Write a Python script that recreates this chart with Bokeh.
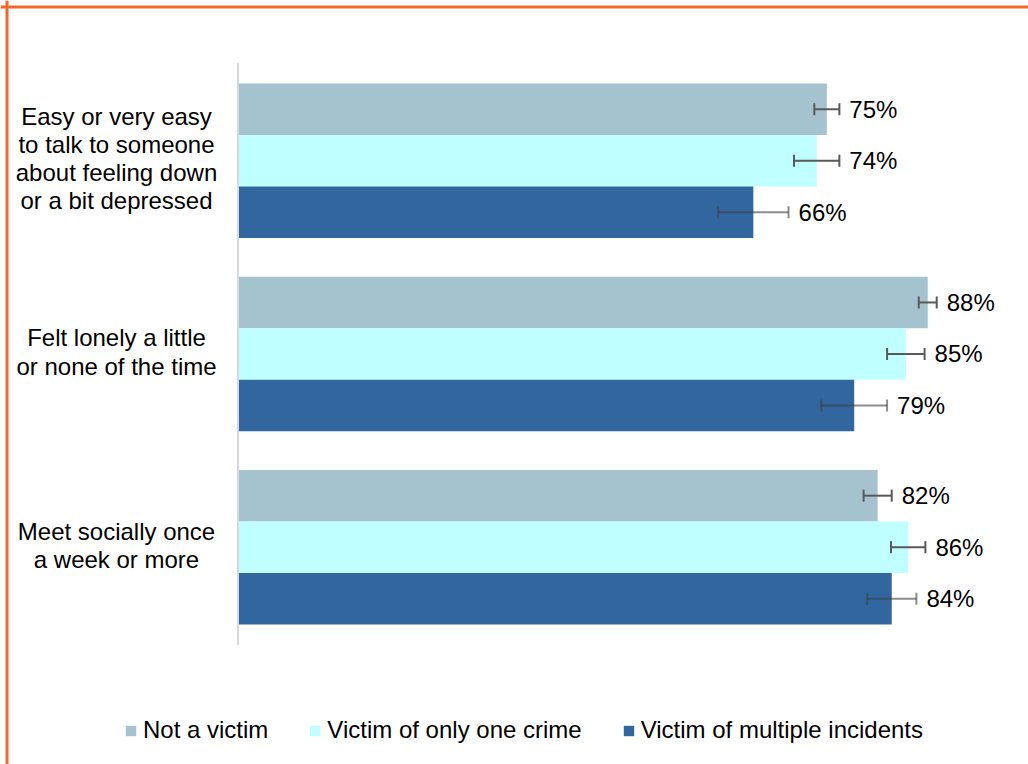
from bokeh.plotting import figure
from bokeh.models import ColumnDataSource, Range1d, Span, Whisker, TeeHead
from bokeh.core.properties import value
from bokeh.embed import file_html
from bokeh.resources import INLINE

# ---------------- data ----------------
categories = [
    "Easy or very easy\nto talk to someone\nabout feeling down\nor a bit depressed",
    "Felt lonely a little\nor none of the time",
    "Meet socially once\na week or more",
]
series_names = ["Not a victim", "Victim of only one crime", "Victim of multiple incidents"]
not_a_victim = [75.3, 88.2, 81.8]
one_crime = [74.0, 85.4, 85.7]
multiple_incidents = [65.9, 78.8, 83.6]
not_a_victim_err = [1.6, 1.15, 1.8]
one_crime_err = [2.9, 2.4, 2.2]
multiple_incidents_err = [4.5, 4.2, 3.15]

values = [not_a_victim, one_crime, multiple_incidents]
errors = [not_a_victim_err, one_crime_err, multiple_incidents_err]

# ---------------- styles / layout ----------------
colors = ["#A5C3CF", "#C0FFFF", "#31669E"]
err_colors = ["#595959", "#595959", "#404040"]
err_alphas = [1.0, 1.0, 0.6]
ORANGE = "#F4662A"
FONT = "Liberation Sans"

W, H = 1028, 764
PX_PER_PCT = 7.82
ZERO_SX = 237.5
BAR_PX = 51.52
TOP_SY = 83
GROUP_GAP = 0.75
N_SER = len(series_names)
PITCH = N_SER + GROUP_GAP
LABEL_X = (116 - ZERO_SX) / PX_PER_PCT
BORDER_SX = 6.5

p = figure(
    width=W, height=H,
    x_axis_type=None, y_axis_type=None,
    output_backend="svg", toolbar_location=None,
    min_border=0,
    x_range=Range1d(-ZERO_SX / PX_PER_PCT, (W - ZERO_SX) / PX_PER_PCT),
    y_range=Range1d((H - TOP_SY) / BAR_PX, -TOP_SY / BAR_PX),
)
p.outline_line_color = None
p.background_fill_color = "white"
p.border_fill_color = "white"

# bars, error bars, value labels
for s, name in enumerate(series_names):
    vals = values[s]
    errs = errors[s]
    ys = [g * PITCH + s + 0.5 for g in range(len(categories))]
    src = ColumnDataSource(dict(
        y=ys,
        right=vals,
        lower=[v - e for v, e in zip(vals, errs)],
        upper=[v + e for v, e in zip(vals, errs)],
        label=[f"{round(v)}%" for v in vals],
    ))
    p.hbar(y="y", left=0, right="right", height=1.0, source=src,
           fill_color=colors[s], line_color=None, legend_label=name)
    w = Whisker(source=src, base="y", lower="lower", upper="upper", dimension="width",
                line_color=err_colors[s], line_alpha=err_alphas[s], line_width=2,
                upper_head=TeeHead(size=12, line_color=err_colors[s], line_alpha=err_alphas[s], line_width=2),
                lower_head=TeeHead(size=12, line_color=err_colors[s], line_alpha=err_alphas[s], line_width=2),
                level="overlay")
    p.add_layout(w)
    p.text(x="upper", y="y", text="label", source=src, x_offset=10,
           text_align="left", text_baseline="middle",
           text_font=value(FONT), text_font_size="24px", text_color="black")

# axis line
n_units = len(categories) * N_SER + (len(categories) - 1) * GROUP_GAP
p.segment(x0=[0], x1=[0], y0=[-0.4], y1=[n_units + 0.4], line_color="#D9D9D9", line_width=2)

# category labels
group_centers = [g * PITCH + N_SER / 2 for g in range(len(categories))]
p.text(x=[LABEL_X] * len(categories), y=group_centers, text=categories,
       text_align="center", text_baseline="middle", text_line_height=1.04,
       y_offset=-2,
       text_font=value(FONT), text_font_size="24px", text_color="black")

# orange frame edges (left and top)
p.add_layout(Span(location=(BORDER_SX - ZERO_SX) / PX_PER_PCT, dimension="height",
                  line_color=ORANGE, line_width=3))
p.add_layout(Span(location=(BORDER_SX - TOP_SY) / BAR_PX, dimension="width",
                  line_color=ORANGE, line_width=3))

# legend
lg = p.legend[0]
lg.orientation = "horizontal"
lg.location = (124, 20)
lg.glyph_width = 13
lg.glyph_height = 13
lg.label_standoff = 6
lg.spacing = 40
lg.padding = 0
lg.margin = 0
lg.border_line_color = None
lg.background_fill_alpha = 0
lg.label_text_font = FONT
lg.label_text_font_size = "24px"
lg.label_text_color = "black"

open("out.html", "w").write(file_html(p, INLINE))
